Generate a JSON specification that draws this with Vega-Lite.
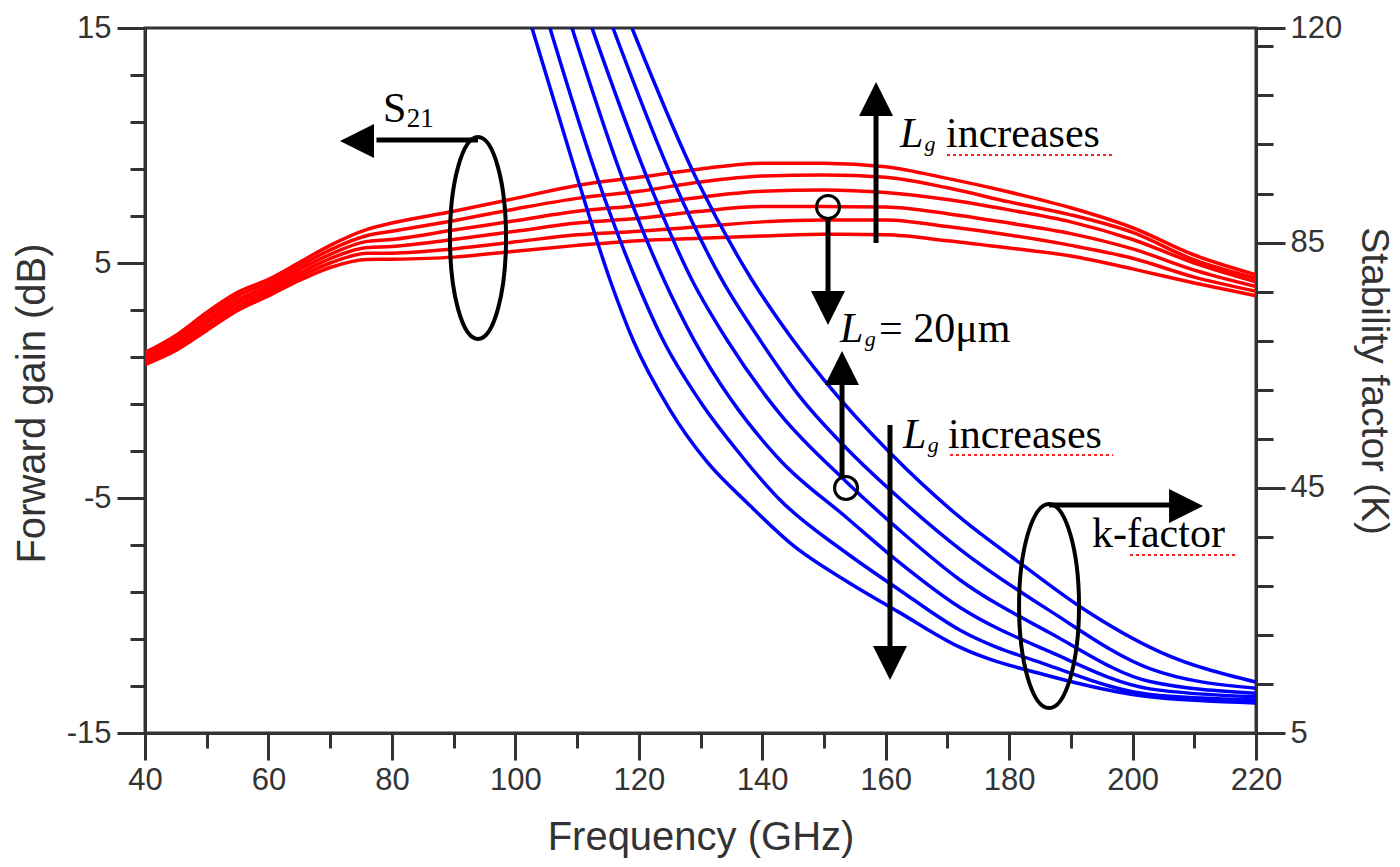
{
  "$schema": "https://vega.github.io/schema/vega-lite/v6.json",
  "width": 1111,
  "height": 705,
  "autosize": "none",
  "padding": {"left": 145, "top": 28, "right": 144, "bottom": 134},
  "config": {
    "view": {"stroke": "#333", "strokeWidth": 3},
    "font": "Liberation Sans",
    "axis": {
      "domainColor": "#333",
      "domainWidth": 3,
      "tickColor": "#333",
      "tickWidth": 3,
      "labelColor": "#333",
      "labelFont": "Liberation Sans",
      "labelFontSize": 31,
      "titleColor": "#333",
      "titleFont": "Liberation Sans",
      "titleFontSize": 40,
      "titleFontWeight": "normal",
      "grid": false,
      "labelFlush": false,
      "labelOverlap": false
    }
  },
  "datasets": {
    "red": [
      {"curve": "r6", "freq": 40, "gain": 1.19}, {"curve": "r6", "freq": 45, "gain": 1.92}, {"curve": "r6", "freq": 50, "gain": 2.90}, {"curve": "r6", "freq": 55, "gain": 3.75}, {"curve": "r6", "freq": 60, "gain": 4.30}, {"curve": "r6", "freq": 65, "gain": 5.02}, {"curve": "r6", "freq": 70, "gain": 5.75}, {"curve": "r6", "freq": 76, "gain": 6.43}, {"curve": "r6", "freq": 80, "gain": 6.70}, {"curve": "r6", "freq": 90, "gain": 7.20}, {"curve": "r6", "freq": 100, "gain": 7.75}, {"curve": "r6", "freq": 110, "gain": 8.30}, {"curve": "r6", "freq": 120, "gain": 8.65}, {"curve": "r6", "freq": 130, "gain": 9.00}, {"curve": "r6", "freq": 140, "gain": 9.25}, {"curve": "r6", "freq": 150, "gain": 9.25}, {"curve": "r6", "freq": 160, "gain": 9.10}, {"curve": "r6", "freq": 170, "gain": 8.60}, {"curve": "r6", "freq": 180, "gain": 8.02}, {"curve": "r6", "freq": 190, "gain": 7.35}, {"curve": "r6", "freq": 200, "gain": 6.50}, {"curve": "r6", "freq": 210, "gain": 5.34}, {"curve": "r6", "freq": 220, "gain": 4.50},
      {"curve": "r5", "freq": 40, "gain": 1.09}, {"curve": "r5", "freq": 45, "gain": 1.79}, {"curve": "r5", "freq": 50, "gain": 2.75}, {"curve": "r5", "freq": 55, "gain": 3.60}, {"curve": "r5", "freq": 60, "gain": 4.16}, {"curve": "r5", "freq": 65, "gain": 4.87}, {"curve": "r5", "freq": 70, "gain": 5.56}, {"curve": "r5", "freq": 76, "gain": 6.17}, {"curve": "r5", "freq": 80, "gain": 6.35}, {"curve": "r5", "freq": 90, "gain": 6.80}, {"curve": "r5", "freq": 100, "gain": 7.30}, {"curve": "r5", "freq": 110, "gain": 7.75}, {"curve": "r5", "freq": 120, "gain": 8.05}, {"curve": "r5", "freq": 130, "gain": 8.45}, {"curve": "r5", "freq": 140, "gain": 8.70}, {"curve": "r5", "freq": 150, "gain": 8.75}, {"curve": "r5", "freq": 160, "gain": 8.65}, {"curve": "r5", "freq": 170, "gain": 8.20}, {"curve": "r5", "freq": 180, "gain": 7.60}, {"curve": "r5", "freq": 190, "gain": 7.05}, {"curve": "r5", "freq": 200, "gain": 6.30}, {"curve": "r5", "freq": 210, "gain": 5.13}, {"curve": "r5", "freq": 220, "gain": 4.35},
      {"curve": "r4", "freq": 40, "gain": 0.99}, {"curve": "r4", "freq": 45, "gain": 1.66}, {"curve": "r4", "freq": 50, "gain": 2.59}, {"curve": "r4", "freq": 55, "gain": 3.44}, {"curve": "r4", "freq": 60, "gain": 4.02}, {"curve": "r4", "freq": 65, "gain": 4.72}, {"curve": "r4", "freq": 70, "gain": 5.37}, {"curve": "r4", "freq": 76, "gain": 5.92}, {"curve": "r4", "freq": 80, "gain": 6.00}, {"curve": "r4", "freq": 90, "gain": 6.40}, {"curve": "r4", "freq": 100, "gain": 6.80}, {"curve": "r4", "freq": 110, "gain": 7.20}, {"curve": "r4", "freq": 120, "gain": 7.45}, {"curve": "r4", "freq": 130, "gain": 7.80}, {"curve": "r4", "freq": 140, "gain": 8.05}, {"curve": "r4", "freq": 150, "gain": 8.11}, {"curve": "r4", "freq": 160, "gain": 8.00}, {"curve": "r4", "freq": 170, "gain": 7.70}, {"curve": "r4", "freq": 180, "gain": 7.26}, {"curve": "r4", "freq": 190, "gain": 6.75}, {"curve": "r4", "freq": 200, "gain": 6.00}, {"curve": "r4", "freq": 210, "gain": 5.00}, {"curve": "r4", "freq": 220, "gain": 4.20},
      {"curve": "r3", "freq": 40, "gain": 0.88}, {"curve": "r3", "freq": 45, "gain": 1.54}, {"curve": "r3", "freq": 50, "gain": 2.44}, {"curve": "r3", "freq": 55, "gain": 3.29}, {"curve": "r3", "freq": 60, "gain": 3.88}, {"curve": "r3", "freq": 65, "gain": 4.56}, {"curve": "r3", "freq": 70, "gain": 5.19}, {"curve": "r3", "freq": 76, "gain": 5.66}, {"curve": "r3", "freq": 80, "gain": 5.70}, {"curve": "r3", "freq": 90, "gain": 6.00}, {"curve": "r3", "freq": 100, "gain": 6.35}, {"curve": "r3", "freq": 110, "gain": 6.70}, {"curve": "r3", "freq": 120, "gain": 6.90}, {"curve": "r3", "freq": 130, "gain": 7.20}, {"curve": "r3", "freq": 140, "gain": 7.40}, {"curve": "r3", "freq": 150, "gain": 7.40}, {"curve": "r3", "freq": 160, "gain": 7.38}, {"curve": "r3", "freq": 170, "gain": 7.10}, {"curve": "r3", "freq": 180, "gain": 6.70}, {"curve": "r3", "freq": 190, "gain": 6.25}, {"curve": "r3", "freq": 200, "gain": 5.60}, {"curve": "r3", "freq": 210, "gain": 4.70}, {"curve": "r3", "freq": 220, "gain": 4.00},
      {"curve": "r2", "freq": 40, "gain": 0.78}, {"curve": "r2", "freq": 45, "gain": 1.41}, {"curve": "r2", "freq": 50, "gain": 2.28}, {"curve": "r2", "freq": 55, "gain": 3.13}, {"curve": "r2", "freq": 60, "gain": 3.74}, {"curve": "r2", "freq": 65, "gain": 4.41}, {"curve": "r2", "freq": 70, "gain": 5.00}, {"curve": "r2", "freq": 76, "gain": 5.41}, {"curve": "r2", "freq": 80, "gain": 5.42}, {"curve": "r2", "freq": 90, "gain": 5.60}, {"curve": "r2", "freq": 100, "gain": 5.90}, {"curve": "r2", "freq": 110, "gain": 6.20}, {"curve": "r2", "freq": 120, "gain": 6.35}, {"curve": "r2", "freq": 130, "gain": 6.55}, {"curve": "r2", "freq": 140, "gain": 6.75}, {"curve": "r2", "freq": 150, "gain": 6.83}, {"curve": "r2", "freq": 160, "gain": 6.83}, {"curve": "r2", "freq": 170, "gain": 6.55}, {"curve": "r2", "freq": 180, "gain": 6.19}, {"curve": "r2", "freq": 190, "gain": 5.75}, {"curve": "r2", "freq": 200, "gain": 5.20}, {"curve": "r2", "freq": 210, "gain": 4.40}, {"curve": "r2", "freq": 220, "gain": 3.80},
      {"curve": "r1", "freq": 40, "gain": 0.68}, {"curve": "r1", "freq": 45, "gain": 1.28}, {"curve": "r1", "freq": 50, "gain": 2.13}, {"curve": "r1", "freq": 55, "gain": 2.98}, {"curve": "r1", "freq": 60, "gain": 3.60}, {"curve": "r1", "freq": 65, "gain": 4.26}, {"curve": "r1", "freq": 70, "gain": 4.81}, {"curve": "r1", "freq": 76, "gain": 5.15}, {"curve": "r1", "freq": 80, "gain": 5.16}, {"curve": "r1", "freq": 90, "gain": 5.25}, {"curve": "r1", "freq": 100, "gain": 5.50}, {"curve": "r1", "freq": 110, "gain": 5.75}, {"curve": "r1", "freq": 120, "gain": 5.95}, {"curve": "r1", "freq": 130, "gain": 6.05}, {"curve": "r1", "freq": 140, "gain": 6.15}, {"curve": "r1", "freq": 150, "gain": 6.22}, {"curve": "r1", "freq": 160, "gain": 6.20}, {"curve": "r1", "freq": 170, "gain": 5.95}, {"curve": "r1", "freq": 180, "gain": 5.64}, {"curve": "r1", "freq": 190, "gain": 5.30}, {"curve": "r1", "freq": 200, "gain": 4.75}, {"curve": "r1", "freq": 210, "gain": 4.15}, {"curve": "r1", "freq": 220, "gain": 3.60}
    ],
    "blue": [
      {"curve": "b1", "freq": 102.7, "k": 120}, {"curve": "b1", "freq": 110.16, "k": 95.2}, {"curve": "b1", "freq": 115.34, "k": 78.9}, {"curve": "b1", "freq": 119.07, "k": 69.1}, {"curve": "b1", "freq": 125.0, "k": 57.8}, {"curve": "b1", "freq": 131.0, "k": 49.3}, {"curve": "b1", "freq": 137.5, "k": 42.6}, {"curve": "b1", "freq": 145.0, "k": 35.6}, {"curve": "b1", "freq": 153.6, "k": 29.8}, {"curve": "b1", "freq": 162.0, "k": 24.8}, {"curve": "b1", "freq": 172.0, "k": 19.0}, {"curve": "b1", "freq": 186.5, "k": 14.3}, {"curve": "b1", "freq": 202.8, "k": 10.9}, {"curve": "b1", "freq": 220, "k": 9.9},
      {"curve": "b2", "freq": 105.61, "k": 120}, {"curve": "b2", "freq": 113.4, "k": 95.2}, {"curve": "b2", "freq": 119.55, "k": 78.9}, {"curve": "b2", "freq": 123.93, "k": 69.1}, {"curve": "b2", "freq": 130.0, "k": 59.0}, {"curve": "b2", "freq": 136.0, "k": 51.0}, {"curve": "b2", "freq": 142.9, "k": 43.0}, {"curve": "b2", "freq": 153.6, "k": 34.4}, {"curve": "b2", "freq": 162.0, "k": 28.5}, {"curve": "b2", "freq": 172.0, "k": 21.8}, {"curve": "b2", "freq": 186.5, "k": 16.0}, {"curve": "b2", "freq": 202.8, "k": 11.3}, {"curve": "b2", "freq": 220, "k": 10.4},
      {"curve": "b3", "freq": 109.18, "k": 120}, {"curve": "b3", "freq": 117.45, "k": 95.2}, {"curve": "b3", "freq": 124.09, "k": 78.9}, {"curve": "b3", "freq": 128.95, "k": 69.1}, {"curve": "b3", "freq": 135.0, "k": 59.3}, {"curve": "b3", "freq": 142.9, "k": 49.5}, {"curve": "b3", "freq": 153.6, "k": 40.2}, {"curve": "b3", "freq": 162.0, "k": 33.0}, {"curve": "b3", "freq": 172.0, "k": 25.5}, {"curve": "b3", "freq": 186.5, "k": 18.3}, {"curve": "b3", "freq": 202.8, "k": 12.2}, {"curve": "b3", "freq": 220, "k": 10.9},
      {"curve": "b4", "freq": 112.42, "k": 120}, {"curve": "b4", "freq": 121.5, "k": 95.2}, {"curve": "b4", "freq": 128.62, "k": 78.9}, {"curve": "b4", "freq": 134.3, "k": 69.1}, {"curve": "b4", "freq": 142.9, "k": 57.0}, {"curve": "b4", "freq": 153.6, "k": 46.0}, {"curve": "b4", "freq": 162.0, "k": 38.3}, {"curve": "b4", "freq": 172.0, "k": 30.0}, {"curve": "b4", "freq": 186.5, "k": 21.4}, {"curve": "b4", "freq": 202.8, "k": 13.4}, {"curve": "b4", "freq": 220, "k": 11.5},
      {"curve": "b5", "freq": 115.82, "k": 120}, {"curve": "b5", "freq": 125.55, "k": 95.2}, {"curve": "b5", "freq": 133.48, "k": 78.9}, {"curve": "b5", "freq": 139.64, "k": 69.1}, {"curve": "b5", "freq": 146.0, "k": 60.0}, {"curve": "b5", "freq": 153.6, "k": 51.5}, {"curve": "b5", "freq": 162.0, "k": 43.5}, {"curve": "b5", "freq": 172.0, "k": 35.0}, {"curve": "b5", "freq": 186.5, "k": 25.0}, {"curve": "b5", "freq": 202.8, "k": 15.5}, {"curve": "b5", "freq": 220, "k": 12.3},
      {"curve": "b6", "freq": 118.9, "k": 120}, {"curve": "b6", "freq": 129.44, "k": 95.2}, {"curve": "b6", "freq": 138.35, "k": 78.9}, {"curve": "b6", "freq": 144.99, "k": 69.1}, {"curve": "b6", "freq": 150.0, "k": 62.6}, {"curve": "b6", "freq": 160.7, "k": 50.7}, {"curve": "b6", "freq": 172.0, "k": 40.2}, {"curve": "b6", "freq": 181.8, "k": 32.7}, {"curve": "b6", "freq": 191.5, "k": 25.6}, {"curve": "b6", "freq": 204.5, "k": 18.2}, {"curve": "b6", "freq": 220, "k": 13.3}
    ]
  },
  "layer": [
    {
      "data": {"name": "red"},
      "mark": {"type": "line", "color": "#ff0000", "strokeWidth": 3.5, "interpolate": "monotone", "clip": true},
      "encoding": {
        "x": {
          "field": "freq", "type": "quantitative",
          "scale": {"domain": [40, 220], "nice": false, "zero": false},
          "axis": {"orient": "bottom", "values": [40, 60, 80, 100, 120, 140, 160, 180, 200, 220], "tickSize": 27, "labelPadding": 5, "title": "Frequency (GHz)", "titlePadding": 22}
        },
        "y": {
          "field": "gain", "type": "quantitative",
          "scale": {"domain": [-15, 15], "nice": false, "zero": false},
          "axis": {"orient": "left", "values": [-15, -5, 5, 15], "labelExpr": "datum.value + ''", "tickSize": 28, "labelPadding": 6, "title": "Forward gain (dB)", "titlePadding": 14, "titleY": 375}
        },
        "detail": {"field": "curve", "type": "nominal"}
      }
    },
    {
      "data": {"name": "blue"},
      "mark": {"type": "line", "color": "#0000ff", "strokeWidth": 3.5, "interpolate": "monotone", "clip": true},
      "encoding": {
        "x": {"field": "freq", "type": "quantitative", "axis": null},
        "y": {
          "field": "k", "type": "quantitative",
          "scale": {"domain": [5, 120], "nice": false, "zero": false},
          "axis": {"orient": "right", "values": [5, 45, 85, 120], "tickSize": 29, "labelPadding": 5, "title": "Stability factor (K)", "titleFontSize": 39, "titlePadding": 12}
        },
        "detail": {"field": "curve", "type": "nominal"}
      }
    },
    {
      "data": {"name": "red"},
      "mark": {"type": "point", "opacity": 0},
      "encoding": {
        "x": {
          "field": "freq", "type": "quantitative",
          "axis": {"orient": "bottom", "values": [50, 70, 90, 110, 130, 150, 170, 190, 210], "tickSize": 15, "labels": false, "domain": false, "title": null}
        },
        "y": {
          "field": "gain", "type": "quantitative",
          "scale": {"domain": [-15, 15], "nice": false, "zero": false},
          "axis": {"orient": "left", "values": [-13, -11, -9, -7, -3, -1, 1, 3, 7, 9, 11, 13], "tickSize": 15, "labels": false, "domain": false, "title": null}
        }
      }
    },
    {
      "data": {"name": "blue"},
      "mark": {"type": "point", "opacity": 0},
      "encoding": {
        "x": {"field": "freq", "type": "quantitative", "axis": null},
        "y": {
          "field": "k", "type": "quantitative",
          "scale": {"domain": [5, 120], "nice": false, "zero": false},
          "axis": {"orient": "right", "values": [13, 21, 29, 37, 53, 61, 69, 77, 93, 101, 109, 117], "tickSize": 17, "labels": false, "domain": false, "title": null}
        }
      }
    },
    {
      "data": {"values": [
        {"f": 93.95, "f2": 77.5, "g": 10.234, "g2": 10.234},
        {"f": 158.44, "f2": 158.44, "g": 5.85, "g2": 11.3},
        {"f": 150.66, "f2": 150.66, "g": 6.87, "g2": 3.7},
        {"f": 152.93, "f2": 152.93, "g": -4.106, "g2": 0.2},
        {"f": 160.7, "f2": 160.7, "g": -1.894, "g2": -11.3},
        {"f": 186.47, "f2": 206.0, "g": -5.3, "g2": -5.3}
      ]},
      "mark": {"type": "rule", "color": "black", "strokeWidth": 5},
      "encoding": {
        "x": {"field": "f", "type": "quantitative", "axis": null},
        "x2": {"field": "f2"},
        "y": {"field": "g", "type": "quantitative", "scale": {"domain": [-15, 15], "nice": false, "zero": false}, "axis": null},
        "y2": {"field": "g2"}
      }
    },
    {
      "data": {"values": [
        {"f": 169.94, "f2": 196.67, "g": 9.596},
        {"f": 170.43, "f2": 196.84, "g": -3.17},
        {"f": 199.59, "f2": 216.93, "g": -7.426}
      ]},
      "mark": {"type": "rule", "color": "#ff2020", "strokeWidth": 2, "strokeDash": [3, 3]},
      "encoding": {
        "x": {"field": "f", "type": "quantitative", "axis": null},
        "x2": {"field": "f2"},
        "y": {"field": "g", "type": "quantitative", "scale": {"domain": [-15, 15], "nice": false, "zero": false}, "axis": null}
      }
    },
    {
      "data": {"values": [
        {"f": 74.35, "g": 10.19, "dir": "left"},
        {"f": 158.44, "g": 11.98, "dir": "up"},
        {"f": 150.66, "g": 3.085, "dir": "down"},
        {"f": 152.93, "g": 0.532, "dir": "up"},
        {"f": 160.7, "g": -12.02, "dir": "down"},
        {"f": 208.67, "g": -5.34, "dir": "right"}
      ]},
      "mark": {"type": "point", "filled": true, "color": "black", "opacity": 1, "size": 1156},
      "encoding": {
        "x": {"field": "f", "type": "quantitative", "axis": null},
        "y": {"field": "g", "type": "quantitative", "scale": {"domain": [-15, 15], "nice": false, "zero": false}, "axis": null},
        "shape": {
          "field": "dir", "type": "nominal", "legend": null,
          "scale": {
            "domain": ["left", "right", "up", "down"],
            "range": ["M -1 0 L 1 -1 L 1 1 Z", "M 1 0 L -1 -1 L -1 1 Z", "M 0 -1 L 1 1 L -1 1 Z", "M 0 1 L 1 -1 L -1 -1 Z"]
          }
        }
      }
    },
    {
      "data": {"values": [
        {"f": 150.66, "g": 7.383},
        {"f": 153.58, "g": -4.574}
      ]},
      "mark": {"type": "point", "shape": "circle", "filled": false, "color": "black", "opacity": 1, "strokeWidth": 3, "size": 530},
      "encoding": {
        "x": {"field": "f", "type": "quantitative", "axis": null},
        "y": {"field": "g", "type": "quantitative", "scale": {"domain": [-15, 15], "nice": false, "zero": false}, "axis": null}
      }
    },
    {
      "data": {"values": [
        {"f": 93.95, "g": 6.064, "group": "S21"},
        {"f": 186.47, "g": -9.6, "group": "K"}
      ]},
      "mark": {"type": "point", "filled": false, "color": "black", "opacity": 1, "strokeWidth": 4, "size": 41616},
      "encoding": {
        "x": {"field": "f", "type": "quantitative", "axis": null},
        "y": {"field": "g", "type": "quantitative", "scale": {"domain": [-15, 15], "nice": false, "zero": false}, "axis": null},
        "shape": {
          "field": "group", "type": "nominal", "legend": null,
          "scale": {
            "domain": ["S21", "K"],
            "range": [
              "M 0 -0.99 C 0.1519 -0.99 0.275 -0.5468 0.275 0 C 0.275 0.5468 0.1519 0.99 0 0.99 C -0.1519 0.99 -0.275 0.5468 -0.275 0 C -0.275 -0.5468 -0.1519 -0.99 0 -0.99 Z",
              "M 0 -1 C 0.1624 -1 0.294 -0.5523 0.294 0 C 0.294 0.5523 0.1624 1 0 1 C -0.1624 1 -0.294 0.5523 -0.294 0 C -0.294 -0.5523 -0.1624 -1 0 -1 Z"
            ]
          }
        }
      }
    },
    {
      "data": {"values": [
        {"f": 169.78, "g": 9.936, "t": "increases"},
        {"f": 158.93, "g": 1.64, "t": "= 20μm"},
        {"f": 170.1, "g": -2.872, "t": "increases"},
        {"f": 193.43, "g": -7.085, "t": "k-factor"},
        {"f": 78.56, "g": 11.0, "t": "S"}
      ]},
      "mark": {"type": "text", "font": "Liberation Serif", "fontSize": 42, "color": "black", "align": "left", "baseline": "alphabetic"},
      "encoding": {
        "x": {"field": "f", "type": "quantitative", "axis": null},
        "y": {"field": "g", "type": "quantitative", "scale": {"domain": [-15, 15], "nice": false, "zero": false}, "axis": null},
        "text": {"field": "t"}
      }
    },
    {
      "data": {"values": [
        {"f": 82.4, "g": 10.787, "t": "21"}
      ]},
      "mark": {"type": "text", "font": "Liberation Serif", "fontSize": 27, "color": "black", "align": "left", "baseline": "alphabetic"},
      "encoding": {
        "x": {"field": "f", "type": "quantitative", "axis": null},
        "y": {"field": "g", "type": "quantitative", "scale": {"domain": [-15, 15], "nice": false, "zero": false}, "axis": null},
        "text": {"field": "t"}
      }
    },
    {
      "data": {"values": [
        {"f": 162.33, "g": 9.936, "t": "L"},
        {"f": 162.81, "g": -2.872, "t": "L"},
        {"f": 152.6, "g": 1.64, "t": "L"}
      ]},
      "mark": {"type": "text", "font": "Liberation Serif", "fontSize": 42, "fontStyle": "italic", "color": "black", "align": "left", "baseline": "alphabetic"},
      "encoding": {
        "x": {"field": "f", "type": "quantitative", "axis": null},
        "y": {"field": "g", "type": "quantitative", "scale": {"domain": [-15, 15], "nice": false, "zero": false}, "axis": null},
        "text": {"field": "t"}
      }
    },
    {
      "data": {"values": [
        {"f": 166.3, "g": 9.766, "t": "g"},
        {"f": 166.8, "g": -3.04, "t": "g"},
        {"f": 156.6, "g": 1.468, "t": "g"}
      ]},
      "mark": {"type": "text", "font": "Liberation Serif", "fontSize": 22, "fontStyle": "italic", "color": "black", "align": "left", "baseline": "alphabetic"},
      "encoding": {
        "x": {"field": "f", "type": "quantitative", "axis": null},
        "y": {"field": "g", "type": "quantitative", "scale": {"domain": [-15, 15], "nice": false, "zero": false}, "axis": null},
        "text": {"field": "t"}
      }
    }
  ],
  "resolve": {
    "scale": {"y": "independent", "shape": "independent"},
    "axis": {"x": "independent", "y": "independent"}
  }
}
